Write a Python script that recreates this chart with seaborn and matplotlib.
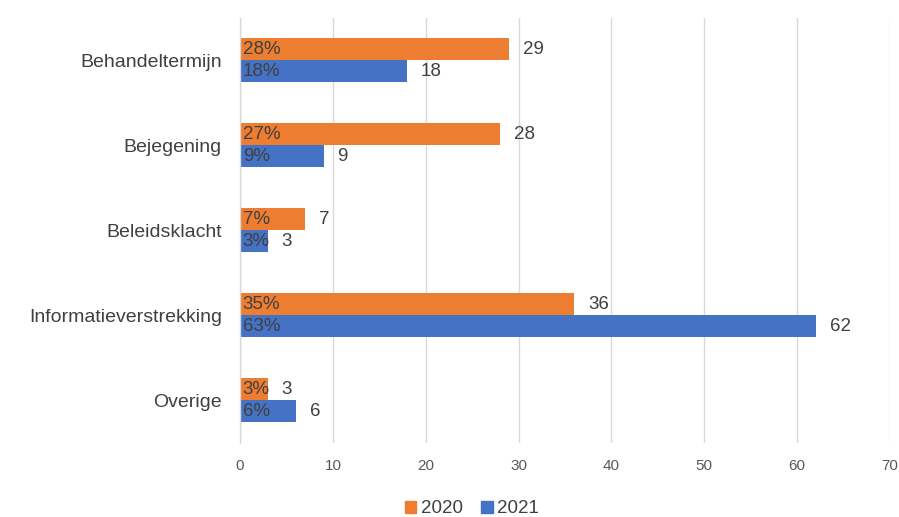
import matplotlib
matplotlib.use("Agg")
import matplotlib.pyplot as plt
import seaborn as sns
import pandas as pd
import numpy as np
from matplotlib.ticker import FixedLocator

categories = ["Behandeltermijn", "Bejegening", "Beleidsklacht", "Informatieverstrekking", "Overige"]
values_2020 = [29, 28, 7, 36, 3]
values_2021 = [18, 9, 3, 62, 6]
pct_2020 = ["28%", "27%", "7%", "35%", "3%"]
pct_2021 = ["18%", "9%", "3%", "63%", "6%"]
years = ["2020", "2021"]
colors = ["#ED7D31", "#4472C4"]

df = pd.DataFrame({
    "cat": categories * 2,
    "val": values_2020 + values_2021,
    "year": [years[0]] * len(categories) + [years[1]] * len(categories),
})

sns.set_theme(style="white")
plt.rcParams["font.family"] = ["Liberation Sans", "DejaVu Sans"]

fig = plt.figure(figsize=(8.99, 5.17), dpi=100)
ax = fig.add_axes([0.267, 0.144, 0.723, 0.822])

sns.barplot(data=df, y="cat", x="val", hue="year", order=categories, hue_order=years,
            palette=colors, orient="h", width=0.52, ax=ax, saturation=1, legend=False,
            linewidth=0)

ax.set_xlim(0, 70)
ax.set_xticks(range(0, 71, 10))
ax.set_xlabel("")
ax.set_ylabel("")
ax.grid(axis="x", color="#d9d9d9", linewidth=1)
ax.set_axisbelow(True)
for s in ["top", "right", "bottom"]:
    ax.spines[s].set_visible(False)
ax.spines["left"].set_color("#d9d9d9")
ax.spines["left"].set_linewidth(1)
ax.tick_params(axis="x", length=0, labelsize=11, labelcolor="#595959", pad=12)
ax.tick_params(axis="y", which="major", length=0, labelsize=14, labelcolor="#404040", pad=13)
ax.yaxis.set_minor_locator(FixedLocator(np.arange(-0.5, len(categories), 1.0)))
ax.tick_params(axis="y", which="minor", length=6, color="#d9d9d9", width=1)
ax.set_ylim(len(categories) - 0.5, -0.5)

pct_lists = [pct_2020, pct_2021]
for i, cont in enumerate(ax.containers):
    ax.bar_label(cont, labels=[f"{v:.0f}" for v in cont.datavalues], padding=10,
                 fontsize=13.5, color="#404040")
    for bar, p in zip(cont, pct_lists[i]):
        ax.annotate(p, xy=(0, bar.get_y() + bar.get_height() / 2), xytext=(2, 0),
                    textcoords="offset points", va="center", ha="left",
                    fontsize=13.5, color="#404040")

handles = [plt.Rectangle((0, 0), 1, 1, color=c) for c in colors]
fig.legend(handles, years, loc="center", bbox_to_anchor=(0.525, 0.016), ncol=2, frameon=False,
           fontsize=13.5, handlelength=0.6, handleheight=0.6, handletextpad=0.25, columnspacing=1.0,
           labelcolor="#404040")

fig.savefig("out.png", dpi=100)
